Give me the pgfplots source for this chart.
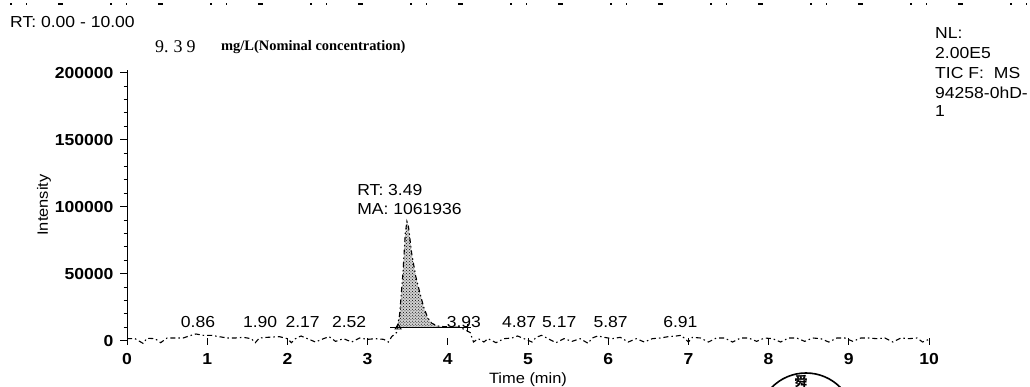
\documentclass[border=0pt]{standalone}
\usepackage{fontspec}
\setmainfont{Liberation Sans}[FakeStretch=1.1]
\newfontfamily\serifhand{Liberation Serif}
\newfontfamily\cjk{Noto Sans CJK SC}
\usepackage{pgfplots}
\pgfplotsset{compat=1.18}
\usetikzlibrary{patterns}
\begin{document}
\begin{tikzpicture}[x=1bp,y=1bp]
\useasboundingbox (0,0) rectangle (1030bp,387bp);
\begin{axis}[
  at={(127bp,42.3bp)}, anchor=south west,
  scale only axis, width=802bp, height=274.7bp,
  xmin=0, xmax=10, ymin=-3000, ymax=202000,
  axis x line=bottom, axis y line=left,
  axis line style={-, line width=1bp},
  x axis line style={draw=none},
  xtick={0,1,...,10}, ytick={0,50000,100000,150000,200000},
  minor y tick num=4,
  xtick align=inside, ytick align=outside,
  major tick length=7bp, minor tick length=3.5bp,
  tick style={black, line width=1bp},
  scaled y ticks=false,
  /pgf/number format/assume math mode=true,
  /pgf/number format/.cd, fixed, precision=2, 1000 sep={}, /tikz/.cd,
  tick label style={font=\bfseries\fontsize{16}{18}\selectfont},
  xticklabel style={yshift=-5bp},
  yticklabel style={xshift=-3bp},
  xlabel={Time (min)}, ylabel={Intensity},
  label style={font=\fontsize{15}{17}\selectfont},
  xlabel style={at={(axis description cs:0.5,-0.1285)}, anchor=center},
  ylabel style={at={(axis description cs:-0.1035,0.5086)}, anchor=center},
  clip=false,
]
% integrated peak area (shaded)
\addplot[draw=none, fill=black!18] coordinates {
(3.37,10000)(3.40,20000)(3.44,50000)(3.47,80000)(3.49,89000)(3.51,85000)
(3.55,65000)(3.60,48000)(3.65,36000)(3.70,25000)(3.75,17000)(3.80,13000)
(3.87,11000)(3.95,10500)(4.05,10200)(4.15,10000)} -- cycle;
\addplot[draw=none, pattern=crosshatch dots] coordinates {
(3.37,10000)(3.40,20000)(3.44,50000)(3.47,80000)(3.49,89000)(3.51,85000)
(3.55,65000)(3.60,48000)(3.65,36000)(3.70,25000)(3.75,17000)(3.80,13000)
(3.87,11000)(3.95,10500)(4.05,10200)(4.15,10000)} -- cycle;
% chromatogram trace
\addplot[black, line width=1.1bp, dash pattern=on 5bp off 3bp on 1.5bp off 3bp] coordinates {
(0.00,1500)(0.10,1500)(0.20,-2000)(0.25,1800)(0.35,1500)(0.42,-1500)(0.50,2000)
(0.60,2000)(0.70,2000)(0.80,4000)(0.86,5000)(0.95,4000)(1.05,4000)(1.15,3000)
(1.25,2000)(1.35,2000)(1.45,2500)(1.55,1500)(1.60,-1500)(1.65,2000)(1.75,2500)
(1.90,3000)(2.00,1500)(2.05,-1500)(2.10,1500)(2.17,3500)(2.25,1500)(2.35,-1000)
(2.45,1500)(2.52,3000)(2.60,-500)(2.70,1500)(2.80,-1000)(2.90,2000)(3.00,1000)
(3.10,1500)(3.20,1000)(3.26,-1000)(3.30,3000)(3.36,6000)
(3.40,20000)(3.44,50000)(3.47,80000)(3.49,89000)(3.51,85000)(3.55,65000)
(3.60,48000)(3.65,36000)(3.70,25000)(3.75,17000)(3.80,13000)(3.87,11000)
(3.95,10500)(4.05,10200)(4.15,10000)(4.22,8000)(4.28,6000)(4.32,-1000)
(4.38,1500)(4.45,-1000)(4.50,1500)(4.60,-1500)(4.70,1500)(4.80,2000)(4.87,3500)
(4.95,1500)(5.05,-1000)(5.10,2500)(5.17,4000)(5.25,1500)(5.35,-1500)(5.45,1500)
(5.55,-500)(5.65,1500)(5.75,-2000)(5.80,2000)(5.87,3500)(5.95,2500)(6.05,1500)
(6.15,2500)(6.25,-1000)(6.35,1500)(6.45,-1000)(6.55,1500)(6.65,2000)(6.75,3000)
(6.85,3500)(6.91,4000)(7.00,-1000)(7.05,2500)(7.15,2000)(7.25,-1000)(7.35,2000)
(7.45,2000)(7.55,-1000)(7.65,2000)(7.75,2000)(7.85,-500)(7.95,2000)(8.05,1500)
(8.15,-1000)(8.25,2000)(8.35,2000)(8.45,-500)(8.55,2000)(8.65,1500)(8.75,-1000)
(8.85,2000)(8.95,2000)(9.05,-500)(9.15,2000)(9.25,2000)(9.35,1500)(9.45,2000)
(9.55,-1000)(9.65,2000)(9.75,1500)(9.85,2000)(9.92,-1000)(10.00,1000)};
% integration baseline with start/end markers
\addplot[black, line width=1.3bp] coordinates {(3.28,10000)(4.24,10000)};
\addplot[only marks, mark=triangle, mark size=3.5bp, mark options={line width=0.8bp}] coordinates {(3.38,10000)};
\addplot[only marks, mark=+, mark size=4bp, mark options={line width=1bp}] coordinates {(4.24,9500)};
% peak labels
\begin{scope}[every node/.style={font=\fontsize{16}{18}\selectfont, inner sep=0pt}]
\node at (axis cs:0.885,14000) {0.86};
\node at (axis cs:1.66,14000) {1.90};
\node at (axis cs:2.19,14000) {2.17};
\node at (axis cs:2.77,14000) {2.52};
\node at (axis cs:4.20,14000) {3.93};
\node at (axis cs:4.89,14000) {4.87};
\node at (axis cs:5.39,14000) {5.17};
\node at (axis cs:6.03,14000) {5.87};
\node at (axis cs:6.90,14000) {6.91};
\node[anchor=west] at (axis cs:2.87,112500) {RT: 3.49};
\node[anchor=west] at (axis cs:2.87,98300) {MA: 1061936};
\end{scope}
\end{axis}
% header texts
\begin{scope}[every node/.style={font=\fontsize{16}{18}\selectfont, inner sep=0pt, anchor=west}]
\node at (10bp,365bp) {RT: 0.00 - 10.00};
\node at (935bp,354bp) {NL:};
\node at (935bp,334bp) {2.00E5};
\node at (935bp,314bp) {TIC F:\hspace{10bp}MS};
\node at (935bp,294bp) {94258-0hD-};
\node at (935bp,276bp) {1};
\end{scope}
\node[anchor=west, inner sep=0pt, font=\serifhand\fontsize{18}{20}\selectfont] at (155bp,340bp) {9.\hspace{5bp}3\hspace{4bp}9};
\node[anchor=west, inner sep=0pt, font=\serifhand\bfseries\fontsize{14.5}{17}\selectfont] at (221bp,340bp) {mg/L(Nominal concentration)};
% scan residue at the top edge and stamp at the bottom edge
\draw[line width=1.2bp, dash pattern=on 2bp off 14bp on 1bp off 31bp on 5bp off 47bp] (10bp,383bp) -- (1030bp,383bp);
\draw[line width=1.6bp] (806bp,-34bp) circle (48bp);
\node[font=\cjk\bfseries\fontsize{13}{13}\selectfont, inner sep=0pt] at (801bp,5bp) {舜};
\end{tikzpicture}
\end{document}
